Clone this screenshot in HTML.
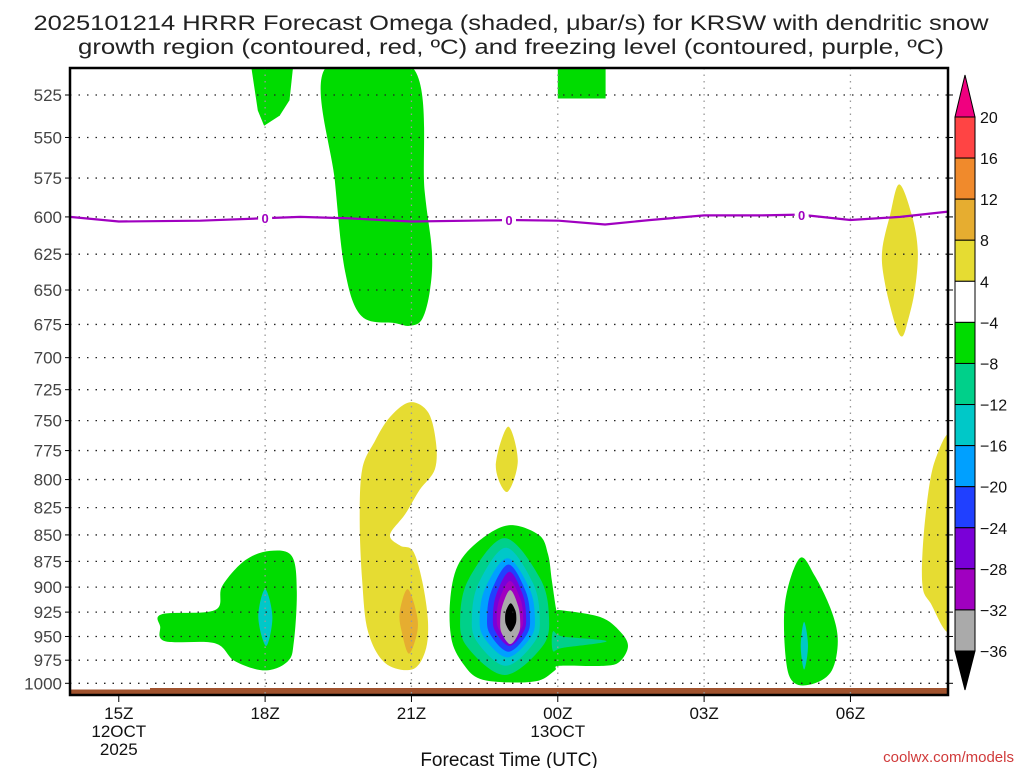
<!DOCTYPE html>
<html><head><meta charset="utf-8"><style>
html,body{margin:0;padding:0;background:#fff;}
svg{display:block;font-family:"Liberation Sans",sans-serif;}
</style></head><body>
<svg id="chart" width="1024" height="768" viewBox="0 0 1024 768" xmlns="http://www.w3.org/2000/svg">
<text x="511" y="30" font-size="21" text-anchor="middle" fill="#222" textLength="955" lengthAdjust="spacingAndGlyphs">2025101214 HRRR Forecast Omega (shaded, μbar/s) for KRSW with dendritic snow</text>
<text x="511" y="54" font-size="21" text-anchor="middle" fill="#222" textLength="866" lengthAdjust="spacingAndGlyphs">growth region (contoured, red, ºC) and freezing level (contoured, purple, ºC)</text>
<g id="plot"></g>
<g id="cbar"></g>
<text x="509" y="766" font-size="19" text-anchor="middle" fill="#111">Forecast Time (UTC)</text>
<text x="1014" y="762" font-size="15" text-anchor="end" fill="#d03a3a">coolwx.com/models</text>
</svg>
<script>
// ---- data ----
const pressureTicks=[525,550,575,600,625,650,675,700,725,750,775,800,825,850,875,900,925,950,975,1000];
const timeTickHours=[15,18,21,24,27,30];
const timeTickLabels=[["15Z","12OCT","2025"],["18Z"],["21Z"],["00Z","13OCT"],["03Z"],["06Z"]];
const cbarLevels=[20,16,12,8,4,-4,-8,-12,-16,-20,-24,-28,-32,-36];
const cbarColors=["#ff4444","#f08a2c","#e6ad30","#e6dc32","#ffffff","#00dc00","#00d08a","#00c8c8","#00a0ff","#2040ff","#7a00d8","#a000c0","#aaaaaa"];
// shaded regions: [hour, pressure] outlines
const greenTop1=[[17.72,510],[18.57,510],[18.5,528],[18.3,537],[17.98,543],[17.85,534]];
const greenTall=[[19.23,510],[21.04,510],[21.27,583],[21.42,623],[21.38,650],[21.22,671],[20.97,676],[20.66,674],[19.98,669],[19.64,637],[19.43,577]];
const greenTop00=[[24.0,510],[24.98,510],[24.98,527],[24.0,527]];
const yellowRightTop=[[31,579],[31.26,599],[31.38,623],[31.32,650],[31.18,672],[31.06,684],[30.91,674],[30.7,644],[30.65,623],[30.81,599]];
const yellowRightBottom=[[32.1,770],[31.73,784],[31.53,836],[31.47,894],[31.63,915],[32.1,937]];
const yellow21=[[20.97,735],[21.34,743],[21.5,767],[21.48,791],[21.17,809],[20.87,831],[20.56,850],[20.77,860],[21.03,865],[21.22,894],[21.34,935],[21.28,966],[21.01,985],[20.46,978],[20.11,945],[19.99,894],[19.94,836],[19.99,791],[20.25,767],[20.56,747]];
const orange21=[[20.92,902],[21.1,925],[21.12,945],[20.95,968],[20.8,945],[20.76,925]];
const yellowSmall=[[22.98,755],[23.18,784],[22.96,811],[22.73,788]];
const greenLeft=[[15.89,927],[16.97,923],[17.12,899],[17.59,874],[18.1,865],[18.55,870],[18.65,904],[18.59,955],[18.47,976],[18.0,986],[17.38,976],[16.97,957],[15.95,955],[15.85,940]];
const tealLeft=[[18,902],[18.15,930],[18.02,960],[17.86,930]];
const greenRight=[[28.96,872],[29.27,889],[29.62,925],[29.74,955],[29.62,986],[29.27,1000],[28.86,1000],[28.68,976],[28.66,915]];
const tealRight=[[29.05,935],[29.13,960],[29.05,985],[28.98,960]];
const greenCore=[[23,841],[23.61,850],[23.8,868],[23.88,894],[23.98,925],[24.04,923],[24.87,930],[25.28,945],[25.44,960],[25.28,976],[24.97,981],[24.04,981],[23.94,986],[23.61,997],[23,999],[22.4,995],[22.09,981],[21.83,955],[21.79,915],[21.95,879],[22.4,855]];
const tealTail=[[23.9,945],[24.1,950],[25.0,955],[24.1,962],[23.9,965]];
// nested core levels: left hour, right hour, top p, bottom p, widest p
const coreLeft=[22.0,22.24,22.4,22.55,22.67,22.75,22.82,22.92];
const coreRight=[23.82,23.63,23.53,23.43,23.35,23.29,23.23,23.15];
const coreTop=[853,862,872,878,885,894,903,916];
const coreBottom=[991,981,972,966,960,955,958,945];
const coreWide=[930,930,930,930,930,930,935,930];
const coreColors=["#00d08a","#00c8c8","#00a0ff","#2040ff","#7a00d8","#a000c0","#aaaaaa","#000000"];
// freezing level
const frzHours=[14,15,16.67,17.9,18.72,19.74,21,22.2,23,24.02,24.97,25.9,27,28.14,28.97,30,31.02,32];
const frzPres=[600,603,602.5,601,600,601,603,602.5,602,602.5,605,602,599,599,598.5,602,600,596.5];
const frzLabelHours=[18,23,29];
// ---- axes ----
const X0=70,X1=948,Y0=68,Y1=695;
const xs=h=>X0+(h-14)*(X1-X0)/18;
const ys=p=>95+913*Math.log(p/525);
const NS="http://www.w3.org/2000/svg";
const plot=document.getElementById('plot');
function mk(tag,attrs,parent){const e=document.createElementNS(NS,tag);for(const k in attrs)e.setAttribute(k,attrs[k]);(parent||plot).appendChild(e);return e;}
function smoothPath(pts){
  const P=pts.map(d=>[xs(d[0]),ys(d[1])]);const n=P.length;let s="M"+P[0][0].toFixed(1)+","+P[0][1].toFixed(1);
  for(let i=0;i<n;i++){const p0=P[(i-1+n)%n],p1=P[i],p2=P[(i+1)%n],p3=P[(i+2)%n];
    const c1=[p1[0]+(p2[0]-p0[0])/6,p1[1]+(p2[1]-p0[1])/6],c2=[p2[0]-(p3[0]-p1[0])/6,p2[1]-(p3[1]-p1[1])/6];
    s+="C"+c1.map(v=>v.toFixed(1))+" "+c2.map(v=>v.toFixed(1))+" "+p2.map(v=>v.toFixed(1));}
  return s+"Z";}
function polyPath(pts){return "M"+pts.map(d=>xs(d[0]).toFixed(1)+","+ys(d[1]).toFixed(1)).join("L")+"Z";}
mk('clipPath',{id:'clip'}).appendChild((()=>{const r=document.createElementNS(NS,'rect');r.setAttribute('x',X0);r.setAttribute('y',Y0);r.setAttribute('width',X1-X0);r.setAttribute('height',Y1-Y0);return r;})());
const g=mk('g',{'clip-path':'url(#clip)'});


function region(pts,color,name,smooth){const e=mk('path',{d:smooth?smoothPath(pts):polyPath(pts),fill:color},g);

}
region(greenTop1,"#00dc00","green-region-top-18z",false);
region(greenTall,"#00dc00","green-region-tall",true);
region(greenTop00,"#00dc00","green-region-top-00z",false);
region(yellowRightTop,"#e6dc32","yellow-region-right-top",true);
region(yellowRightBottom,"#e6dc32","yellow-region-right-bottom",true);
region(yellow21,"#e6dc32","yellow-region-21z",true);
region(orange21,"#e6ad30","orange-region-21z",true);
region(yellowSmall,"#e6dc32","yellow-region-small",true);
region(greenLeft,"#00dc00","green-region-left",true);
region(tealLeft,"#00c8c8","teal-region-left",true);
region(greenRight,"#00dc00","green-region-right",true);
region(tealRight,"#00c8c8","teal-region-right",true);
region(greenCore,"#00dc00","green-region-core",true);
region(tealTail,"#00d08a","core-tail",true);
for(let i=0;i<coreColors.length;i++){
  const c=(coreLeft[i]+coreRight[i])/2;
  const pts=[[c,coreTop[i]],[coreRight[i]-(coreRight[i]-c)*0.2,(coreTop[i]+coreWide[i])/2],[coreRight[i],coreWide[i]],[coreRight[i]-(coreRight[i]-c)*0.15,(coreWide[i]+coreBottom[i])/2],[c,coreBottom[i]],[coreLeft[i]+(c-coreLeft[i])*0.15,(coreWide[i]+coreBottom[i])/2],[coreLeft[i],coreWide[i]],[coreLeft[i]+(c-coreLeft[i])*0.2,(coreTop[i]+coreWide[i])/2]];
  region(pts,coreColors[i],"core-level-"+i,true);
}
// terrain
const t1=mk('rect',{x:X0,y:688,width:X1-X0,height:Y1-688,fill:"#a0522d"});


mk('rect',{x:X0,y:688,width:80,height:1.5,fill:"#fff"});
// grid
pressureTicks.forEach(p=>{const y=ys(p);
  const l=mk('line',{x1:X0,x2:X1,y1:y,y2:y,stroke:"#222","stroke-width":1.3,"stroke-dasharray":"1.5,7"});
  
  
  mk('line',{x1:X0-5,x2:X0,y1:y,y2:y,stroke:"#000"});mk('line',{x1:X1,x2:X1+5,y1:y,y2:y,stroke:"#000"});
  const t=mk('text',{x:X0-8,y:y+6,"font-size":17,"text-anchor":"end",fill:"#444"});t.textContent=p;
  
  
});
timeTickHours.forEach((h,i)=>{const x=xs(h);
  if(i>0){const l=mk('line',{x1:x,x2:x,y1:Y0,y2:Y1,stroke:"#999","stroke-width":1.3,"stroke-dasharray":"1.5,5"});
  
  }
  mk('line',{x1:x,x2:x,y1:Y1,y2:Y1+7,stroke:"#000"});
  timeTickLabels[i].forEach((s,j)=>{const t=mk('text',{x:x,y:719+j*18,"font-size":17,"text-anchor":"middle",fill:"#111"});t.textContent=s;
  
  });
});
// freezing line
let d="";frzHours.forEach((h,i)=>{d+=(i?"L":"M")+xs(h).toFixed(1)+","+ys(frzPres[i]).toFixed(1);});
const fl=mk('path',{d:d,fill:"none",stroke:"#a000c0","stroke-width":2.2});


frzLabelHours.forEach(h=>{let k=0;while(k<frzHours.length-2&&frzHours[k+1]<h)k++;
  const f=(h-frzHours[k])/(frzHours[k+1]-frzHours[k]);const p=frzPres[k]+f*(frzPres[k+1]-frzPres[k]);
  mk('rect',{x:xs(h)-7,y:ys(p)-7,width:14,height:14,fill:"#fff"});
  const t=mk('text',{x:xs(h),y:ys(p)+5,"font-size":13,"font-weight":"bold","text-anchor":"middle",fill:"#a000c0"});t.textContent="0";
  
  });
const fr=mk('rect',{x:X0,y:Y0,width:X1-X0,height:Y1-Y0,fill:"none",stroke:"#000","stroke-width":2.5});


// colorbar
const cb=document.getElementById('cbar');const cx0=955,cx1=975,cyTop=117,cyBot=651;const step=(cyBot-cyTop)/(cbarLevels.length-1);
const tri1=mk('path',{d:`M${cx0},${cyTop}L${(cx0+cx1)/2},75L${cx1},${cyTop}Z`,fill:"#f0007f",stroke:"#000"},cb);


const tri2=mk('path',{d:`M${cx0},${cyBot}L${(cx0+cx1)/2},690L${cx1},${cyBot}Z`,fill:"#000",stroke:"#000"},cb);


cbarColors.forEach((c,i)=>{const r=mk('rect',{x:cx0,y:cyTop+i*step,width:cx1-cx0,height:step,fill:c,stroke:"#000","stroke-width":1},cb);
  
  });
cbarLevels.forEach((v,i)=>{const t=mk('text',{x:980,y:cyTop+i*step+6,"font-size":16,fill:"#111"},cb);t.textContent=v<0?"\u2212"+(-v):String(v);
  
  });
</script>
</body></html>
